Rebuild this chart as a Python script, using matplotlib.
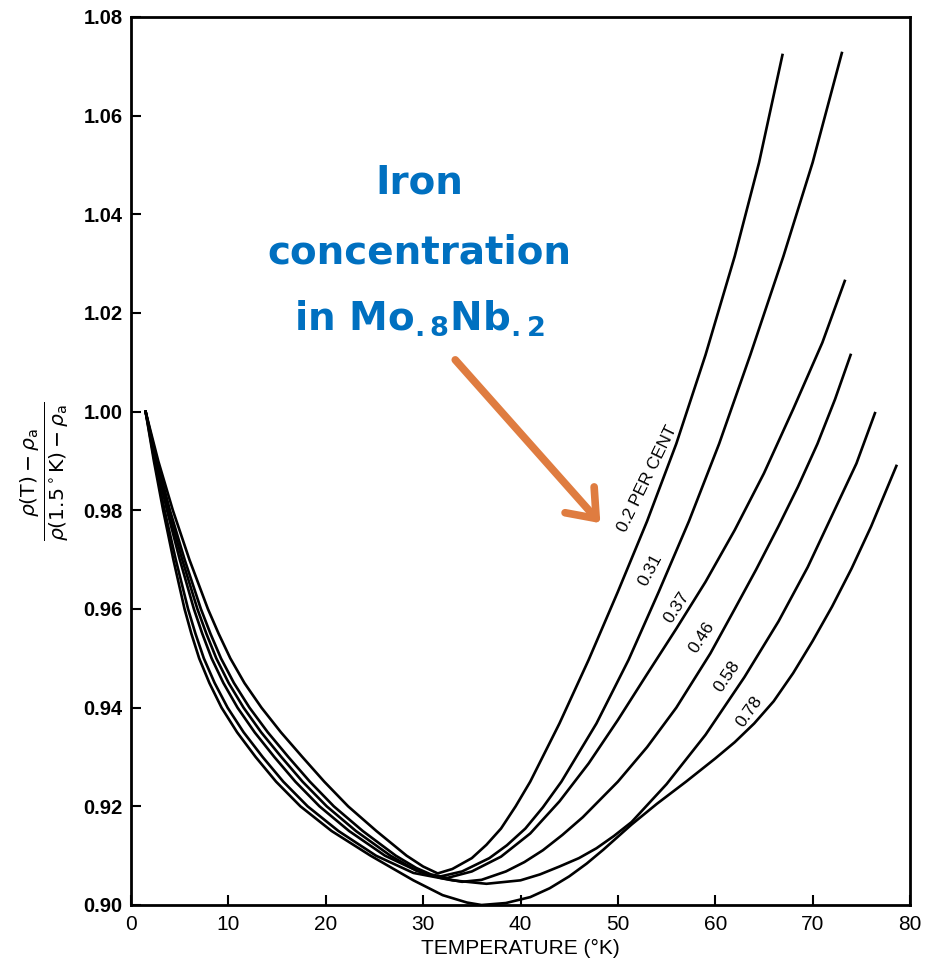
import matplotlib
matplotlib.use("Agg")
import matplotlib.pyplot as plt

plt.rcParams["font.family"] = ["Liberation Sans", "DejaVu Sans"]
plt.rcParams["mathtext.fontset"] = "dejavusans"

# iron concentration (per cent) and curves: T in K, normalised resistivity
conc_labels = ["0.2 PER CENT", "0.31", "0.37", "0.46", "0.58", "0.78"]

t_020 = [1.5, 2.8, 4.3, 6.0, 7.9, 9.0, 10.2, 11.65, 13.4, 15.4, 17.6, 19.85, 22.3, 25.2,
         28.3, 30.0, 31.5, 33.0, 35.0, 36.5, 38.0, 39.5, 41.0, 44.0, 47.0, 50.0, 53.0,
         56.0, 59.0, 62.0, 64.5, 66.9]
r_020 = [1.000, 0.990, 0.980, 0.970, 0.960, 0.955, 0.950, 0.945, 0.940, 0.935, 0.930, 0.925,
         0.920, 0.915, 0.910, 0.9078, 0.9064, 0.9073, 0.9095, 0.9122, 0.9155, 0.9200,
         0.9250, 0.9368, 0.9497, 0.9635, 0.9778, 0.9935, 1.0115, 1.0315, 1.0505, 1.0723]

t_031 = [1.5, 2.67, 4.0, 5.51, 7.18, 8.16, 9.24, 10.57, 12.17, 14.05, 16.16, 18.37, 20.83,
         23.8, 27.19, 29.3, 30.8, 31.8, 34.0, 36.8, 38.6, 40.5, 42.3, 44.2, 47.8, 51.1,
         54.2, 57.3, 60.4, 63.6, 67.0, 70.0, 73.0]
r_031 = [1.000, 0.990, 0.980, 0.970, 0.960, 0.955, 0.950, 0.945, 0.940, 0.935, 0.930, 0.925,
         0.920, 0.915, 0.910, 0.9075, 0.9062, 0.9058, 0.9068, 0.9095, 0.9121, 0.9155,
         0.9198, 0.9250, 0.9368, 0.9497, 0.9635, 0.9778, 0.9935, 1.0115, 1.0315, 1.0505,
         1.0727]

t_037 = [1.5, 2.60, 3.85, 5.26, 6.82, 7.74, 8.76, 10.03, 11.56, 13.37, 15.44, 17.62, 20.1,
         23.1, 26.64, 29.3, 30.8, 32.5, 35.0, 38.0, 41.0, 44.0, 47.0, 50.0, 53.0, 56.0,
         59.0, 62.0, 65.0, 68.0, 71.0, 73.3]
r_037 = [1.000, 0.990, 0.980, 0.970, 0.960, 0.955, 0.950, 0.945, 0.940, 0.935, 0.930, 0.925,
         0.920, 0.915, 0.910, 0.9070, 0.9060, 0.9055, 0.9068, 0.9098, 0.9145, 0.9210,
         0.9287, 0.9375, 0.9468, 0.9560, 0.9655, 0.9760, 0.9875, 1.0005, 1.0140, 1.0265]

t_046 = [1.5, 2.53, 3.70, 5.01, 6.46, 7.32, 8.28, 9.49, 10.94, 12.7, 14.72, 16.88, 19.36,
         22.4, 26.08, 29.3, 31.8, 34.0, 36.0, 38.5, 40.4, 42.3, 44.3, 46.4, 50.0, 53.0,
         56.0, 59.5, 62.0, 64.2, 66.5, 68.5, 70.5, 72.3, 73.9]
r_046 = [1.000, 0.990, 0.980, 0.970, 0.960, 0.955, 0.950, 0.945, 0.940, 0.935, 0.930, 0.925,
         0.920, 0.915, 0.910, 0.9070, 0.9055, 0.9047, 0.9051, 0.9068, 0.9087, 0.9111,
         0.9142, 0.9178, 0.9250, 0.9320, 0.9400, 0.9510, 0.9600, 0.9680, 0.9768, 0.9848,
         0.9935, 1.0025, 1.0115]

t_058 = [1.5, 2.42, 3.45, 4.60, 5.86, 6.62, 7.48, 8.59, 9.92, 11.57, 13.52, 15.64, 18.14,
         21.3, 25.16, 29.0, 33.0, 36.5, 40.0, 42.0, 44.0, 46.0, 47.8, 49.6, 51.4, 55.0,
         59.0, 63.0, 66.5, 69.5, 72.0, 74.5, 76.4]
r_058 = [1.000, 0.990, 0.980, 0.970, 0.960, 0.955, 0.950, 0.945, 0.940, 0.935, 0.930, 0.925,
         0.920, 0.915, 0.910, 0.9065, 0.9050, 0.9043, 0.9050, 0.9062, 0.9078, 0.9095,
         0.9115, 0.9140, 0.9168, 0.9245, 0.9345, 0.9462, 0.9575, 0.9685, 0.9790, 0.9895,
         0.9997]

t_078 = [1.5, 2.35, 3.3, 4.35, 5.5, 6.2, 7.0, 8.05, 9.3, 10.9, 12.8, 14.9, 17.4, 20.6, 24.6,
         29.0, 32.0, 34.5, 36.0, 38.5, 41.0, 43.0, 45.0, 46.8, 48.5, 51.4, 54.0, 57.0, 60.0,
         62.0, 64.0, 66.0, 68.0, 70.0, 72.0, 74.0, 76.0, 78.6]
r_078 = [1.000, 0.990, 0.980, 0.970, 0.960, 0.955, 0.950, 0.945, 0.940, 0.935, 0.930, 0.925,
         0.920, 0.915, 0.910, 0.9050, 0.9020, 0.9005, 0.9000, 0.9004, 0.9016, 0.9034,
         0.9058, 0.9084, 0.9112, 0.9163, 0.9205, 0.9250, 0.9297, 0.9330, 0.9368, 0.9413,
         0.9470, 0.9535, 0.9605, 0.9682, 0.9767, 0.9890]

# label anchor (T, value) and angle for each curve label
lab_t = [53.0, 53.3, 56.0, 58.6, 61.2, 63.5]
lab_r = [0.9865, 0.968, 0.9604, 0.9543, 0.9464, 0.9392]
lab_rot = [64, 62, 57, 57, 56, 55]

xticks = [0, 10, 20, 30, 40, 50, 60, 70, 80]
yticks = [0.90, 0.92, 0.94, 0.96, 0.98, 1.00, 1.02, 1.04, 1.06, 1.08]

BLUE = "#0070C0"
ORANGE = "#DF7C40"

fig = plt.figure(figsize=(9.43, 9.60), dpi=100)
ax = fig.add_axes([131 / 943, 55 / 960, 779 / 943, 888 / 960])

for t, r in [(t_020, r_020), (t_031, r_031), (t_037, r_037),
             (t_046, r_046), (t_058, r_058), (t_078, r_078)]:
    ax.plot(t, r, color="black", lw=1.9, solid_joinstyle="round")

for txt, t, r, rot in zip(conc_labels, lab_t, lab_r, lab_rot):
    ax.text(t, r, txt, rotation=rot, rotation_mode="anchor", ha="center",
            va="center", fontsize=12.5)

ax.set_xlim(0, 80)
ax.set_ylim(0.90, 1.08)
ax.set_xticks(xticks)
ax.set_yticks(yticks)
ax.set_yticklabels([f"{v:.2f}" for v in yticks], fontweight="bold")
ax.tick_params(direction="in", length=7, width=1.5, labelsize=14.5, pad=6)
ax.tick_params(axis="x", labelsize=15, pad=7)
for sp in ax.spines.values():
    sp.set_linewidth(2.0)

ax.set_xlabel("TEMPERATURE (°K)", fontsize=15, labelpad=4)
fig.text(44 / 943, 1 - 471 / 960,
         r"$\frac{\rho(\mathrm{T})-\rho_\mathrm{a}}{\rho(1.5^\circ\mathrm{K})-\rho_\mathrm{a}}$",
         rotation=90, ha="center", va="center", fontsize=21)

# blue annotation with orange arrow
ax.text(29.6, 1.0443, "Iron", color=BLUE, fontsize=28, fontweight="bold",
        family="DejaVu Sans", ha="center", va="baseline")
ax.text(29.6, 1.0301, "concentration", color=BLUE, fontsize=28, fontweight="bold",
        family="DejaVu Sans", ha="center", va="baseline")
ax.text(29.6, 1.0166, r"in Mo$_{\mathbf{.8}}$Nb$_{\mathbf{.2}}$", color=BLUE, fontsize=28,
        fontweight="bold", family="DejaVu Sans", ha="center", va="baseline")
ax.annotate("", xy=(48.2, 0.9774), xytext=(33.3, 1.0105),
            arrowprops=dict(arrowstyle="->,head_length=1.8,head_width=1.4",
                            lw=5.5, color=ORANGE, shrinkA=0, shrinkB=0))

fig.savefig("out.png", dpi=100)
